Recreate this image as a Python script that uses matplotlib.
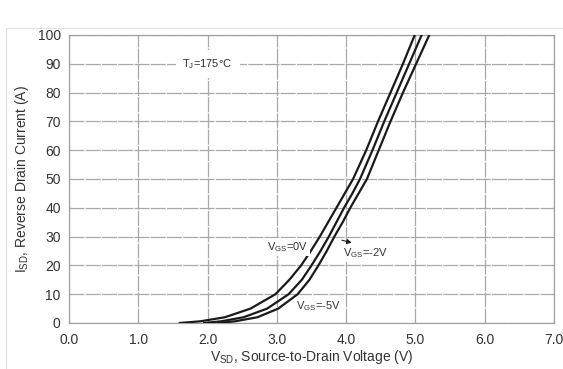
import matplotlib
matplotlib.use("Agg")
import matplotlib.pyplot as plt
from matplotlib.patches import Rectangle

plt.rcParams["font.family"] = ["Liberation Sans", "DejaVu Sans"]
plt.rcParams["mathtext.default"] = "regular"

# reverse drain current vs source-to-drain voltage, Tj = 175 C
isd = [0, 0.6, 2, 5, 10, 15, 20, 25, 30, 35, 40, 45, 50, 60, 70, 80, 90, 100]

vsd_0v = [1.6, 1.9, 2.25, 2.62, 2.98, 3.18, 3.35, 3.49, 3.62, 3.74, 3.86, 3.98,
          4.10, 4.29, 4.46, 4.64, 4.82, 4.99]
vsd_m2v = [1.95, 2.2, 2.52, 2.86, 3.17, 3.36, 3.50, 3.63, 3.75, 3.86, 3.97, 4.09,
           4.20, 4.38, 4.55, 4.73, 4.91, 5.09]
vsd_m5v = [2.15, 2.4, 2.72, 3.02, 3.30, 3.47, 3.60, 3.72, 3.83, 3.95, 4.06, 4.18,
           4.30, 4.47, 4.64, 4.82, 5.01, 5.20]

x_ticks = [0, 1, 2, 3, 4, 5, 6, 7]
y_ticks = [0, 10, 20, 30, 40, 50, 60, 70, 80, 90, 100]

fig = plt.figure(figsize=(5.63, 3.69), dpi=100)
fig.patches.append(Rectangle((6 / 563, -0.1), 1.2, 1 - 28 / 369 + 0.1,
                             transform=fig.transFigure, fill=False,
                             edgecolor="#e0e0e0", linewidth=0.8))
ax = fig.add_axes([69 / 563, 1 - 323 / 369, 485 / 563, 288 / 369])

ax.set_xlim(0, 7)
ax.set_ylim(0, 100)
ax.set_xticks(x_ticks)
ax.set_xticklabels([f"{v:.1f}" for v in x_ticks])
ax.set_yticks(y_ticks)
ax.tick_params(length=0, labelsize=10, colors="#333333")
ax.tick_params(axis="x", pad=7)
ax.tick_params(axis="y", pad=6)
ax.grid(True, color="#a8a8a8", linewidth=0.9, linestyle=(0, (12, 1)))
ax.set_axisbelow(True)
for sp in ax.spines.values():
    sp.set_color("#a0a0a0")
    sp.set_linewidth(0.9)

for v in (vsd_0v, vsd_m2v, vsd_m5v):
    ax.plot(v, isd, color="#1a1a1a", linewidth=1.6, zorder=3)

box = dict(facecolor="white", edgecolor="none", pad=1.5)
ax.text(2.0, 90, "T$_J$=175°C", fontsize=8, color="#333333",
        ha="center", va="center",
        bbox=dict(facecolor="white", edgecolor="none", pad=5), zorder=4)
ax.text(3.15, 26.5, "V$_{GS}$=0V", fontsize=8, color="#333333",
        ha="center", va="center", bbox=box, zorder=4)
ax.text(4.28, 24.3, "V$_{GS}$=-2V", fontsize=8, color="#333333",
        ha="center", va="center", bbox=box, zorder=4)
ax.text(3.6, 5.7, "V$_{GS}$=-5V", fontsize=8, color="#333333",
        ha="center", va="center", bbox=box, zorder=4)
ax.annotate("", xy=(4.12, 27.6), xytext=(3.9, 29.0),
            arrowprops=dict(arrowstyle="-|>", color="#1a1a1a", lw=0.8,
                            mutation_scale=7), zorder=5)

ax.set_xlabel("V$_{SD}$, Source-to-Drain Voltage (V)", fontsize=10,
              color="#333333", labelpad=1)
ax.set_ylabel("I$_{SD}$, Reverse Drain Current (A)", fontsize=10,
              color="#333333", labelpad=5)

fig.savefig("out.png", dpi=100)
